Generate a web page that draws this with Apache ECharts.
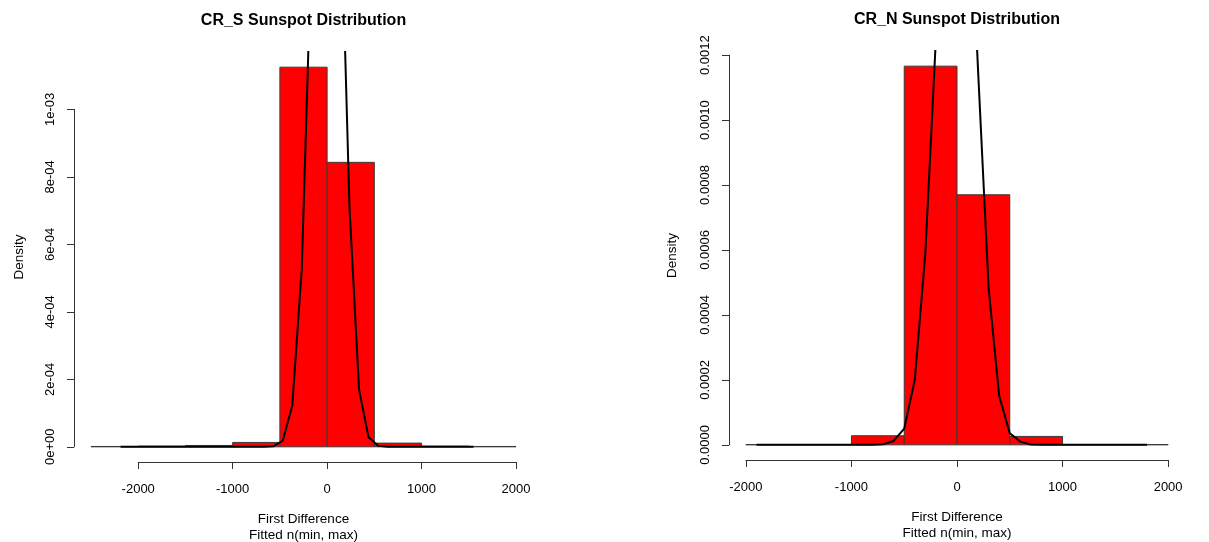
<!DOCTYPE html>
<html>
<head>
<meta charset="utf-8">
<script src="https://cdn.jsdelivr.net/npm/echarts@6/dist/echarts.min.js"></script>
<style>
  html, body { margin: 0; padding: 0; background: #ffffff; }
  #chart { width: 1209px; height: 542px; }
</style>
</head>
<body>
<div id="chart"></div>
<script>
// ---- CR_S (southern hemisphere) histogram: bin edges and densities ----
const sEdges = [-2500, -2000, -1500, -1000, -500, 0, 500, 1000, 1500, 2000];
const sDensity = [1e-6, 2e-6, 4e-6, 1.3e-5, 1.125e-3, 8.43e-4, 1.1e-5, 2e-6, 1e-6];

// fitted normal curve for CR_S, evaluated between min and max of the data
const sFitX = [-2187, -2086, -1985, -1884, -1783, -1682, -1581, -1480, -1379, -1278,
               -1177, -1076, -975, -874, -773, -672, -571, -470, -369, -268,
               -167, -66, 35, 136, 237, 338, 439, 540, 641, 742,
               843, 944, 1045, 1146, 1247, 1348, 1449, 1550];
const sFitY = [0, 0, 0, 0, 0, 0, 0, 0, 0, 0,
               0, 0, 0, 0, 0, 0, 1.6e-6, 1.8e-5, 1.22e-4, 5.3e-4,
               1.47e-3, 2.48e-3, 2.62e-3, 1.72e-3, 7.1e-4, 1.7e-4, 2.8e-5, 3e-6, 0, 0,
               0, 0, 0, 0, 0, 0, 0, 0];

// ---- CR_N (northern hemisphere) histogram ----
const nEdges = [-2000, -1500, -1000, -500, 0, 500, 1000, 1500, 2000];
const nDensity = [1e-6, 1e-6, 2.8e-5, 1.166e-3, 7.7e-4, 2.6e-5, 1e-6, 1e-6];

const nFitX = [-1900, -1800, -1700, -1600, -1500, -1400, -1300, -1200, -1100, -1000,
               -900, -800, -700, -600, -500, -400, -300, -200, -100, 0,
               100, 200, 300, 400, 500, 600, 700, 800, 900, 1000,
               1100, 1200, 1300, 1400, 1500, 1600, 1700, 1800];
const nFitY = [0, 0, 0, 0, 0, 0, 0, 0, 0, 0,
               0, 0, 2e-6, 1.2e-5, 5.0e-5, 2.0e-4, 5.9e-4, 1.25e-3, 2.0e-3, 2.24e-3,
               1.85e-3, 1.15e-3, 4.8e-4, 1.5e-4, 3.6e-5, 1e-5, 1e-6, 0, 0, 0,
               0, 0, 0, 0, 0, 0, 0, 0];

// ---- axis ticks and labels ----
const sXTicks = [-2000, -1000, 0, 1000, 2000];
const sYTicks = [0, 2e-4, 4e-4, 6e-4, 8e-4, 1e-3];
const sYLabels = ['0e+00', '2e-04', '4e-04', '6e-04', '8e-04', '1e-03'];
const nXTicks = [-2000, -1000, 0, 1000, 2000];
const nYTicks = [0, 2e-4, 4e-4, 6e-4, 8e-4, 1e-3, 1.2e-3];
const nYLabels = ['0.0000', '0.0002', '0.0004', '0.0006', '0.0008', '0.0010', '0.0012'];

const titles = ['CR_S Sunspot Distribution', 'CR_N Sunspot Distribution'];
const xTitle = 'First Difference\nFitted n(min, max)';
const yTitle = 'Density';

// ---- layout ----
const FONT = '"Liberation Sans", Arial, Helvetica, sans-serif';
const panels = [
  { left: 74, right: 533, top: 52, bottom: 462, edges: sEdges, dens: sDensity,
    fx: sFitX, fy: sFitY, xt: sXTicks, yt: sYTicks, yl: sYLabels, title: titles[0], nameGapY: 48 },
  { left: 729, right: 1185, top: 51, bottom: 460, edges: nEdges, dens: nDensity,
    fx: nFitX, fy: nFitY, xt: nXTicks, yt: nYTicks, yl: nYLabels, title: titles[1], nameGapY: 50 }
];

// plot ranges padded by 4% on each side
panels.forEach(p => {
  const e0 = p.edges[0], e1 = p.edges[p.edges.length - 1];
  const xr = e1 - e0;
  const ymax = Math.max(...p.dens);
  p.u = { x0: e0 - 0.04 * xr, x1: e1 + 0.04 * xr, y0: -0.04 * ymax, y1: 1.04 * ymax };
  p.px = v => p.left + (v - p.u.x0) / (p.u.x1 - p.u.x0) * (p.right - p.left);
  p.py = v => p.bottom - (v - p.u.y0) / (p.u.y1 - p.u.y0) * (p.bottom - p.top);
});

const tickText = { color: '#000', fontFamily: FONT, fontSize: 13 };
const nameText = { color: '#000', fontFamily: FONT, fontSize: 13.5 };
const axisLineStyle = { lineStyle: { color: '#333', width: 1 } };
// grids keep exactly the rectangle given, no automatic shrinking for labels
const fixedBox = { containLabel: false, outerBoundsMode: 'none' };

const grid = [], xAxis = [], yAxis = [], series = [], title = [];

panels.forEach((p, k) => {
  const base = grid.length;
  // plotting region
  grid.push(Object.assign({ left: p.left, top: p.top, width: p.right - p.left, height: p.bottom - p.top }, fixedBox));
  // x axis spanning first to last tick
  const xa = p.px(p.xt[0]), xb = p.px(p.xt[p.xt.length - 1]);
  grid.push(Object.assign({ left: xa, top: p.top, width: xb - xa, height: p.bottom - p.top }, fixedBox));
  // y axis spanning first to last tick
  const ya = p.py(p.yt[p.yt.length - 1]), yb = p.py(p.yt[0]);
  grid.push(Object.assign({ left: p.left, top: ya, width: 10, height: yb - ya }, fixedBox));

  const yStep = p.yt[1] - p.yt[0];

  xAxis.push({
    gridIndex: base, type: 'value', min: p.u.x0, max: p.u.x1,
    axisLine: { show: false }, axisTick: { show: false }, axisLabel: { show: false },
    splitLine: { show: false },
    name: xTitle, nameLocation: 'middle', nameGap: 49,
    nameTextStyle: Object.assign({}, nameText, { lineHeight: 16 })
  });
  yAxis.push({
    gridIndex: base, type: 'value', min: p.u.y0, max: p.u.y1,
    axisLine: { show: false }, axisTick: { show: false }, axisLabel: { show: false },
    splitLine: { show: false },
    name: yTitle, nameLocation: 'middle', nameGap: p.nameGapY,
    nameTextStyle: nameText
  });

  xAxis.push({
    gridIndex: base + 1, type: 'value', min: p.xt[0], max: p.xt[p.xt.length - 1],
    interval: p.xt[1] - p.xt[0],
    axisLine: axisLineStyle,
    axisTick: { length: 7, lineStyle: { color: '#333' } },
    axisLabel: Object.assign({ margin: 21, formatter: v => String(Math.round(v)) }, tickText),
    splitLine: { show: false }
  });
  yAxis.push({ gridIndex: base + 1, type: 'value', min: 0, max: 1, show: false });

  xAxis.push({ gridIndex: base + 2, type: 'value', min: 0, max: 1, show: false });
  yAxis.push({
    gridIndex: base + 2, type: 'value', min: p.yt[0], max: p.yt[p.yt.length - 1],
    interval: yStep,
    axisLine: axisLineStyle,
    axisTick: { length: 7, lineStyle: { color: '#333' } },
    axisLabel: Object.assign({
      rotate: 90, margin: 17,
      formatter: v => p.yl[Math.round(v / yStep)]
    }, tickText),
    splitLine: { show: false }
  });

  // histogram bars
  series.push({
    type: 'custom', xAxisIndex: base, yAxisIndex: base, z: 2,
    encode: { x: [0, 1], y: 2 },
    data: p.dens.map((d, i) => [p.edges[i], p.edges[i + 1], d]),
    renderItem: (params, api) => {
      const a = api.coord([api.value(0), api.value(2)]);
      const b = api.coord([api.value(1), 0]);
      return {
        type: 'rect',
        shape: { x: a[0], y: a[1], width: b[0] - a[0], height: b[1] - a[1] },
        style: { fill: '#ff0000', stroke: '#3a3a3a', lineWidth: 1 }
      };
    }
  });

  // fitted density curve
  series.push({
    type: 'line', xAxisIndex: base, yAxisIndex: base, z: 3,
    data: p.fx.map((x, i) => [x, p.fy[i]]),
    showSymbol: false, clip: true, silent: true,
    lineStyle: { color: '#000', width: 2 },
    animation: false
  });

  title.push({
    text: p.title, left: (p.left + p.right) / 2, top: 13 - k, padding: 0, textAlign: 'center',
    textStyle: { fontFamily: FONT, fontSize: 16, fontWeight: 'bold', color: '#000' }
  });
});

const chart = echarts.init(document.getElementById('chart'), null, { renderer: 'canvas' });
chart.setOption({
  backgroundColor: '#ffffff',
  animation: false,
  title, grid, xAxis, yAxis, series
});
</script>
</body>
</html>
